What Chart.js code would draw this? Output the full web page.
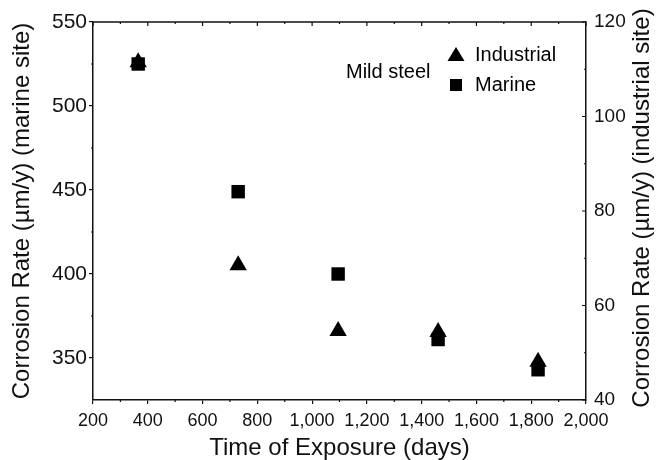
<!DOCTYPE html>
<html>
<head>
<meta charset="utf-8">
<script src="https://cdn.jsdelivr.net/npm/chart.js@4"></script>
<style>
  html, body { margin: 0; padding: 0; background: #fff; }
  #wrap { width: 657px; height: 460px; }
</style>
</head>
<body>
<div id="wrap"><canvas id="corrChart"></canvas></div>
<script>
// exposure times (days)
var days = [365, 730, 1095, 1460, 1825];
// marine site, left axis (µm/y)
var marineRate = [525, 449, 400, 361, 343];
// industrial site, right axis (µm/y)
var industrialRate = [111.5, 68.5, 54.6, 54.4, 48.1];

var xTicks = [200, 400, 600, 800, 1000, 1200, 1400, 1600, 1800, 2000];
var leftTicks = [350, 400, 450, 500, 550];
var rightTicks = [40, 60, 80, 100, 120];

var FONT = "'Liberation Sans', Arial, Helvetica, sans-serif";

function toPoints(xs, ys) {
    return xs.map(function (x, i) { return { x: x, y: ys[i] }; });
}

function fixTicks(list) {
    return function (scale) {
        scale.ticks = list.map(function (v) { return { value: v }; });
    };
}

// top border, right-axis ticks (inward), minor ticks, legend, right title
var framePlugin = {
    id: 'frame',
    afterDraw: function (chart) {
        var ctx = chart.ctx;
        var a = chart.chartArea;
        var xs = chart.scales.x, yl = chart.scales.y, yr = chart.scales.y1;
        ctx.save();
        ctx.strokeStyle = '#111';
        ctx.lineWidth = 1.5;
        ctx.beginPath();
        ctx.moveTo(a.left, a.top);
        ctx.lineTo(a.right, a.top);
        ctx.stroke();

        ctx.lineWidth = 1.2;
        ctx.beginPath();
        for (var v = 200; v <= 2000; v += 100) {
            var px = xs.getPixelForValue(v);
            var major = v % 200 === 0;
            ctx.moveTo(px, a.top);
            ctx.lineTo(px, a.top + (major ? 4 : 2));
            if (!major) {
                ctx.moveTo(px, a.bottom);
                ctx.lineTo(px, a.bottom + 2);
            }
        }
        for (var m = 375; m < 550; m += 50) {
            var py = yl.getPixelForValue(m);
            ctx.moveTo(a.left, py);
            ctx.lineTo(a.left - 2, py);
        }
        for (var r = 40; r <= 120; r += 10) {
            var ry = yr.getPixelForValue(r);
            ctx.moveTo(a.right, ry);
            ctx.lineTo(a.right - (r % 20 === 0 ? 4 : 2), ry);
        }
        ctx.stroke();

        // legend
        var lx = 456, ly1 = 55, ly2 = 85;
        ctx.fillStyle = '#000';
        ctx.font = '20px ' + FONT;
        ctx.textBaseline = 'middle';
        ctx.textAlign = 'left';
        ctx.fillText('Mild steel', 346, 72);
        ctx.fillText('Industrial', 475, ly1);
        ctx.fillText('Marine', 475, ly2);
        ctx.beginPath();
        ctx.moveTo(lx, ly1 - 8);
        ctx.lineTo(lx + 8.5, ly1 + 6);
        ctx.lineTo(lx - 8.5, ly1 + 6);
        ctx.closePath();
        ctx.fill();
        ctx.fillRect(lx - 6, ly2 - 6, 12, 12);

        // right axis title, reading bottom to top like the left one
        ctx.fillStyle = '#111';
        ctx.font = '24px ' + FONT;
        ctx.textAlign = 'center';
        ctx.translate(642, (a.top + a.bottom) / 2 - 3);
        ctx.rotate(-Math.PI / 2);
        ctx.fillText('Corrosion Rate (µm/y) (industrial site)', 0, 0);
        ctx.restore();
    }
};

var ctx1 = document.getElementById('corrChart').getContext('2d');
var corrChart = new Chart(ctx1, {
    type: 'scatter',
    data: {
        datasets: [{
            label: 'Industrial',
            data: toPoints(days, industrialRate),
            yAxisID: 'y1',
            pointStyle: 'triangle',
            pointRadius: 10,
            pointHoverRadius: 10,
            backgroundColor: '#000',
            borderColor: '#000',
            borderWidth: 0
        }, {
            label: 'Marine',
            data: toPoints(days, marineRate),
            yAxisID: 'y',
            pointStyle: 'rect',
            pointRadius: 9.5,
            pointHoverRadius: 9.5,
            backgroundColor: '#000',
            borderColor: '#000',
            borderWidth: 0
        }]
    },
    options: {
        responsive: true,
        maintainAspectRatio: false,
        animation: false,
        layout: { padding: { top: 22, left: 0, right: 0, bottom: 0 } },
        plugins: {
            legend: { display: false },
            tooltip: { enabled: false }
        },
        scales: {
            x: {
                type: 'linear',
                position: 'bottom',
                min: 200,
                max: 2000,
                afterBuildTicks: fixTicks(xTicks),
                afterFit: function (s) { s.height = 60; },
                border: { color: '#111', width: 1.5 },
                grid: { drawOnChartArea: false, tickLength: 4, color: '#111', lineWidth: 1.2 },
                ticks: {
                    color: '#111',
                    padding: 6,
                    maxRotation: 0,
                    font: { family: FONT, size: 18 },
                    callback: function (v) { return v.toLocaleString('en-US'); }
                },
                title: {
                    display: true,
                    text: 'Time of Exposure (days)',
                    color: '#111',
                    font: { family: FONT, size: 24, lineHeight: 1.0 },
                    padding: { top: 0, bottom: 0 }
                }
            },
            y: {
                type: 'linear',
                position: 'left',
                min: 325,
                max: 550,
                afterBuildTicks: fixTicks(leftTicks),
                afterFit: function (s) { s.width = 93; },
                border: { color: '#111', width: 1.5 },
                grid: { drawOnChartArea: false, tickLength: 4, color: '#111', lineWidth: 1.2 },
                ticks: {
                    color: '#111',
                    padding: 2,
                    font: { family: FONT, size: 21 }
                },
                title: {
                    display: true,
                    text: 'Corrosion Rate (µm/y) (marine site)',
                    color: '#111',
                    font: { family: FONT, size: 24 },
                    padding: { top: 8, bottom: 0 }
                }
            },
            y1: {
                type: 'linear',
                position: 'right',
                min: 40,
                max: 120,
                afterBuildTicks: fixTicks(rightTicks),
                afterFit: function (s) { s.width = 71; },
                border: { color: '#111', width: 1.5 },
                grid: { drawOnChartArea: false, drawTicks: false },
                ticks: {
                    color: '#111',
                    padding: 8,
                    font: { family: FONT, size: 19 }
                },
                title: { display: false }
            }
        }
    },
    plugins: [framePlugin]
});
</script>
</body>
</html>
